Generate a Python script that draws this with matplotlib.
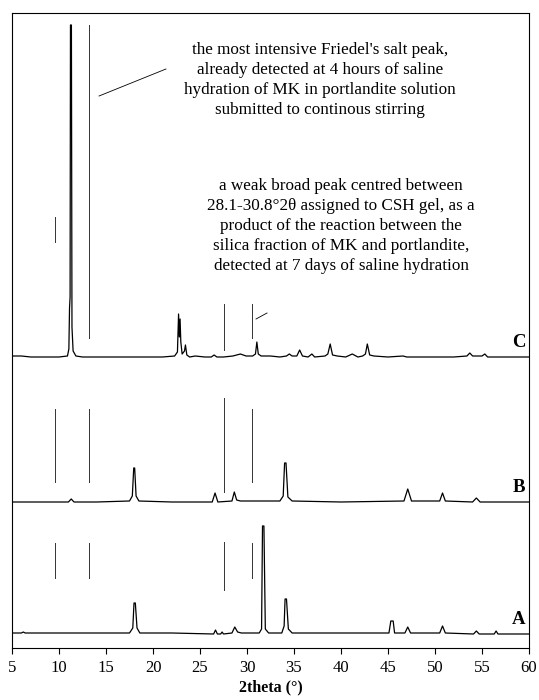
import numpy as np
import matplotlib
matplotlib.use("Agg")
import matplotlib.pyplot as plt

plt.rcParams['font.family'] = ['Liberation Serif', 'DejaVu Serif']

# 2theta / intensity (intensity above each trace's own baseline)
tt_A = [5, 6.0, 6.2, 6.4, 9, 12, 15, 17.5, 17.85, 17.98, 18.12, 18.3, 18.6, 22, 26.45, 26.65, 26.85,
        27.2, 27.35, 27.5, 28.4, 28.7, 29.0, 29.4, 31.3, 31.55, 31.65, 31.8, 31.95, 32.3, 33.7, 33.95,
        34.05, 34.2, 34.4, 34.8, 36, 40, 45.1, 45.3, 45.42, 45.55, 45.7, 46.8, 47.1, 47.4, 50.5, 50.8,
        51.1, 54.1, 54.4, 54.7, 56.3, 56.5, 56.7, 60]
int_A = [1, 1, 2, 1, 1, 1, 1, 1, 6, 31, 31, 6, 1, 1, 0, 4, 0,
         0, 2, 0, 1, 7, 2, 1, 1, 5, 108, 108, 5, 1, 1, 8,
         35, 35, 5, 1, 1, 1, 1, 13, 13, 13, 1, 1, 7, 1, 1, 8,
         1, 0, 3, 0, 0, 3, 0, 0]

tt_B = [5, 7, 9, 11.0, 11.3, 11.6, 14, 17.5, 17.8, 17.95, 18.05, 18.2, 18.5, 22, 26.3, 26.6, 26.9,
        28.4, 28.65, 28.9, 29.3, 33.5, 33.85, 34.0, 34.15, 34.35, 34.8, 40, 46.7, 47.1, 47.5, 50.5,
        50.8, 51.1, 54.0, 54.4, 54.8, 60]
int_B = [0, 0, 0, 0, 3, 0, 0, 1, 6, 34, 34, 6, 1, 0, 0, 9, 0,
         1, 10, 2, 1, 1, 6, 39, 39, 5, 1, 0, 1, 13, 1, 1,
         9, 1, 0, 4, 0, 0]

tt_C = [5, 6, 7, 8, 9, 10, 10.9, 11.05, 11.12, 11.18, 11.22, 11.32, 11.38, 11.5, 11.8, 12.5, 14, 16,
        18, 20, 21, 22.3, 22.6, 22.72, 22.8, 22.88, 22.96, 23.1, 23.35, 23.45, 23.6, 23.9, 24.5, 25.5,
        26.2, 26.5, 26.8, 27.5, 28.5, 29.3, 29.9, 30.6, 30.9, 31.05, 31.2, 31.5, 32.5, 33.5, 34.2, 34.5,
        34.8, 35.3, 35.6, 35.9, 36.5, 36.9, 37.2, 38.3, 38.6, 38.85, 39.1, 39.6, 40.5, 41.2, 41.8, 42.3,
        42.6, 42.8, 43.05, 43.5, 45, 46.6, 47, 49, 52, 53.4, 53.7, 54.0, 55.0, 55.3, 55.6, 57, 59, 60]
int_C = [1, 1, 0, 0, 0, 0, 1, 8, 49, 60, 332, 332, 30, 6, 1, 0, 0, 0,
         0, 0, 0, 1, 5, 43, 20, 38, 15, 3, 6, 12, 2, 0, 1, 0,
         0, 2, 0, 0, 1, 3, 1, 1, 3, 15, 3, 1, 1, 0, 1, 3,
         1, 1, 7, 1, 0, 3, 0, 1, 3, 13, 2, 1, 0, 3, 0, 1,
         3, 13, 2, 1, 0, 1, 0, 0, 0, 1, 4, 1, 1, 3, 0, 0, 0, 0]

labels = ['A', 'B', 'C']
offsets = [14, 146, 291]

# reference lines: 2theta, y from, y to (axis units)
ref_tt = [9.6, 13.2, 27.6, 30.5]
ref_A = [(70, 105), (70, 105), (58, 106), (70, 105)]
ref_B = [(166, 239), (166, 239), (156, 250), (166, 239)]
ref_C = [(406, 431), (310, 623), (298, 344), (310, 344)]

note1 = ("the most intensive Friedel's salt peak,\n"
         "already detected at 4 hours of saline\n"
         "hydration of MK in portlandite solution\n"
         "submitted to continous stirring")
note2 = ("a weak broad peak centred between\n"
         "28.1-30.8°2θ assigned to CSH gel, as a\n"
         "product of the reaction between the\n"
         "silica fraction of MK and portlandite,\n"
         "detected at 7 days of saline hydration")

fig = plt.figure(figsize=(5.39, 7.00), dpi=100)
ax = fig.add_axes([12/539, 52/700, 517/539, 635/700])

traces = [(tt_A, int_A), (tt_B, int_B), (tt_C, int_C)]
for (tt, inten), off, lab in zip(traces, offsets, labels):
    ax.plot(tt, np.array(inten) + off, color='black', lw=0.9)
    ax.text(59.6, off + 10, lab, fontsize=13.5, fontweight='bold', ha='right', va='baseline')

for refs in (ref_A, ref_B, ref_C):
    for t, (y0, y1) in zip(ref_tt, refs):
        ax.plot([t, t], [y0, y1], color='#333333', lw=0.7)

# leader lines
ax.plot([14.26, 21.38], [552, 579], color='black', lw=0.6)
ax.plot([30.96, 32.13], [329, 335], color='black', lw=0.6)

ax.text(37.8, 568, note1, ha='center', va='center', fontsize=12.3, linespacing=1.35)
ax.text(40.0, 422, note2, ha='center', va='center', fontsize=12.3, linespacing=1.35)

ax.set_xlim(5, 60)
ax.set_ylim(0, 635)
ax.set_xticks(np.arange(5, 61, 5))
ax.set_yticks([])
ax.tick_params(axis='x', direction='out', length=4, pad=5, labelsize=12)
ax.set_xlabel('2theta (°)', fontsize=11.5, fontweight='bold', labelpad=2)

fig.savefig('out.png', dpi=100)
